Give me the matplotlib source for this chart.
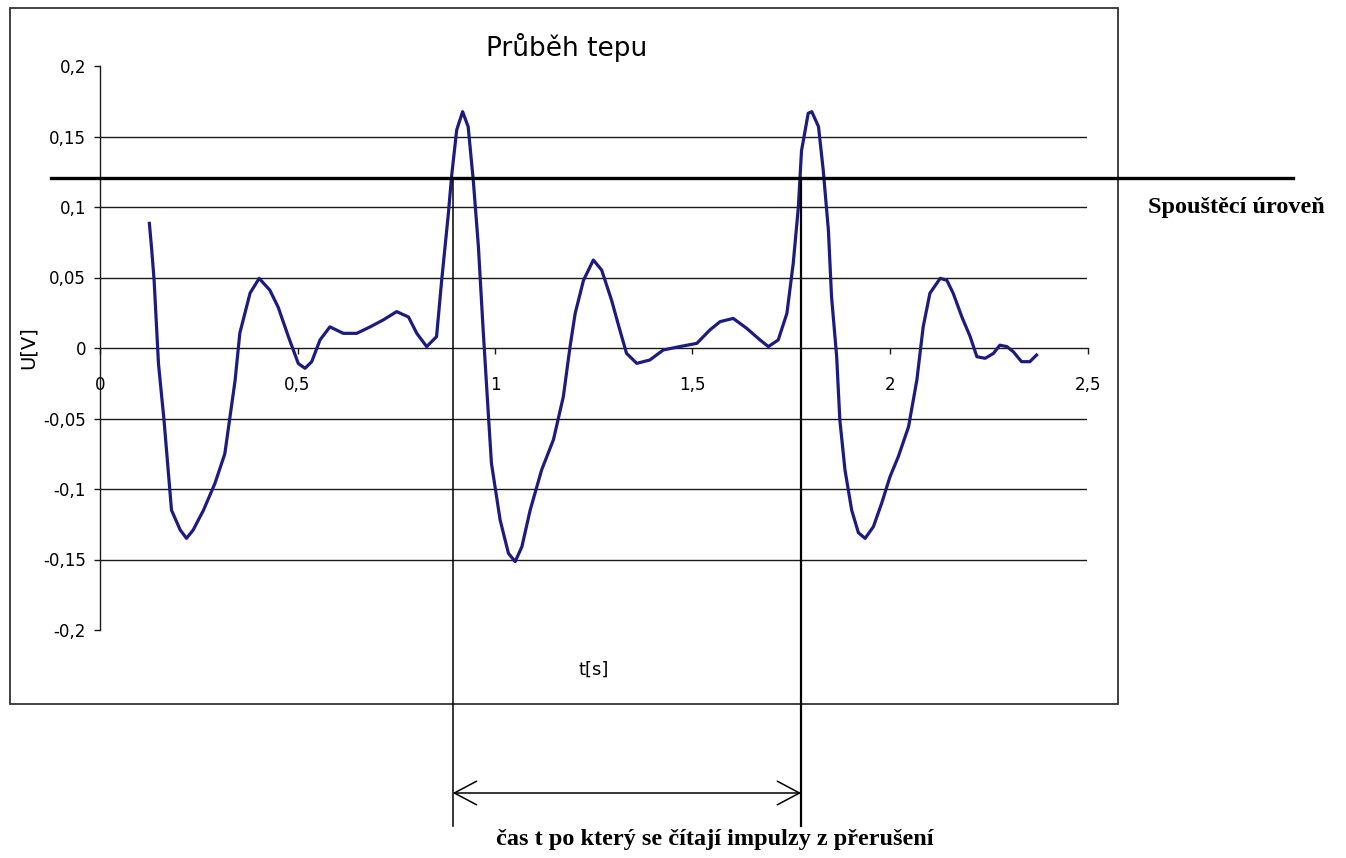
import matplotlib
matplotlib.use("Agg")
import matplotlib.pyplot as plt
from matplotlib.patches import Rectangle
from matplotlib.lines import Line2D
import matplotlib.transforms as mtransforms

# ---- data ----
t = [0.125, 0.131, 0.137, 0.148, 0.162, 0.181, 0.203, 0.219, 0.236, 0.262,
     0.291, 0.316, 0.329, 0.342, 0.354, 0.380, 0.403, 0.430, 0.451, 0.477,
     0.502, 0.519, 0.536, 0.557, 0.582, 0.616, 0.650, 0.684, 0.717, 0.751,
     0.781, 0.802, 0.827, 0.852, 0.865, 0.882, 0.890, 0.903, 0.918, 0.932,
     0.945, 0.958, 0.970, 0.983, 0.991, 1.013, 1.034, 1.051, 1.068, 1.089,
     1.118, 1.148, 1.173, 1.190, 1.203, 1.224, 1.249, 1.270, 1.295, 1.316,
     1.333, 1.359, 1.392, 1.426, 1.468, 1.511, 1.544, 1.570, 1.603, 1.637,
     1.671, 1.692, 1.717, 1.739, 1.755, 1.768, 1.776, 1.793, 1.802, 1.819,
     1.831, 1.844, 1.852, 1.865, 1.873, 1.886, 1.903, 1.920, 1.937, 1.958,
     1.979, 2.000, 2.021, 2.047, 2.068, 2.084, 2.101, 2.127, 2.144, 2.160,
     2.182, 2.203, 2.220, 2.241, 2.262, 2.278, 2.296, 2.312, 2.333, 2.354,
     2.371]
u = [0.0884, 0.0695, 0.048, -0.011, -0.051, -0.115, -0.129, -0.135, -0.129, -0.115,
     -0.096, -0.075, -0.049, -0.023, 0.0106, 0.039, 0.0494, 0.041, 0.029, 0.008,
     -0.011, -0.0144, -0.0097, 0.0057, 0.015, 0.0104, 0.0104, 0.015, 0.0199, 0.0258,
     0.022, 0.0104, 0.001, 0.008, 0.048, 0.0955, 0.1215, 0.1546, 0.1676, 0.157,
     0.119, 0.0718, 0.0128, -0.0463, -0.0818, -0.122, -0.1456, -0.1515, -0.141, -0.115,
     -0.0865, -0.065, -0.0345, 0.001, 0.0246, 0.048, 0.0624, 0.0553, 0.034, 0.0128,
     -0.0038, -0.0109, -0.0085, -0.0014, 0.001, 0.0033, 0.0128, 0.0187, 0.021, 0.014,
     0.0057, 0.001, 0.0057, 0.0246, 0.060, 0.100, 0.140, 0.1665, 0.1676, 0.157,
     0.126, 0.0837, 0.0364, -0.0062, -0.051, -0.0865, -0.115, -0.131, -0.135, -0.1267,
     -0.110, -0.0913, -0.0771, -0.0558, -0.0227, 0.015, 0.0388, 0.0494, 0.048, 0.0388,
     0.022, 0.008, -0.0062, -0.0073, -0.0038, 0.002, 0.001, -0.0026, -0.0097, -0.0097,
     -0.005]

trigger_level = 0.1206
trigger_times = [0.893, 1.775]

x_ticks = [0, 0.5, 1, 1.5, 2, 2.5]
x_ticklabels = ["0", "0,5", "1", "1,5", "2", "2,5"]
y_ticks = [-0.2, -0.15, -0.1, -0.05, 0, 0.05, 0.1, 0.15, 0.2]
y_ticklabels = ["-0,2", "-0,15", "-0,1", "-0,05", "0", "0,05", "0,1", "0,15", "0,2"]
grid_levels = [-0.15, -0.1, -0.05, 0.05, 0.1, 0.15]

title = "Průběh tepu"
xlabel = "t[s]"
ylabel = "U[V]"
trigger_label = "Spouštěcí úroveň"
interval_label = "čas t po který se čítají impulzy z přerušení"

# ---- figure ----
W, H = 1346, 858
fig = plt.figure(figsize=(W / 100, H / 100), dpi=100)
fig.patch.set_facecolor("white")

def fx(px):
    return px / W

def fy(py):
    return 1 - py / H

ax = fig.add_axes([fx(100), fy(630), (1087.5 - 100) / W, (630 - 66) / H])
ax.set_xlim(0, 2.5)
ax.set_ylim(-0.2, 0.2)
ax.patch.set_alpha(0)

for g in grid_levels:
    ax.axhline(g, color="#1a1a1a", lw=1.0, zorder=1)

ax.spines["top"].set_visible(False)
ax.spines["right"].set_visible(False)
ax.spines["bottom"].set_position(("data", 0))
for s in ("left", "bottom"):
    ax.spines[s].set_color("#1a1a1a")
    ax.spines[s].set_linewidth(1.0)

tickfont = dict(family="DejaVu Sans", size=12)
ax.set_xticks(x_ticks)
ax.set_xticklabels(x_ticklabels, **tickfont)
ax.set_yticks(y_ticks)
ax.set_yticklabels(y_ticklabels, **tickfont)
ax.tick_params(axis="x", direction="out", length=4, width=1.0, pad=16, color="#1a1a1a")
ax.tick_params(axis="y", direction="out", length=4, width=1.0, pad=6, color="#1a1a1a")

ax.plot(t, u, color="#1c1c80", lw=2.3, zorder=3, solid_joinstyle="round")

# frame around chart area
fig.add_artist(Rectangle((fx(10), fy(704)), fx(1118) - fx(10), fy(8) - fy(704),
                         transform=fig.transFigure, fill=False,
                         edgecolor="#333333", lw=1.3))

# trigger level line (extends beyond chart)
tr_x = mtransforms.blended_transform_factory(fig.transFigure, ax.transData)
fig.add_artist(Line2D([fx(51), fx(1293)], [trigger_level, trigger_level],
                      transform=tr_x, color="black", lw=2.4))

# vertical markers at trigger crossings
tr_v = mtransforms.blended_transform_factory(ax.transData, fig.transFigure)
y_top = ax.transData.transform((0, trigger_level))[1] / fig.bbox.height
for i, tt in enumerate(trigger_times):
    fig.add_artist(Line2D([tt, tt], [fy(826), y_top], transform=tr_v,
                          color="black", lw=1.1 if i == 0 else 1.6))

# double arrow
ax.annotate("", xy=(trigger_times[1], fy(793)), xycoords=tr_v,
            xytext=(trigger_times[0], fy(793)), textcoords=tr_v,
            arrowprops=dict(arrowstyle="<->,head_length=1.6,head_width=0.85",
                            mutation_scale=10, lw=1.1, color="black",
                            shrinkA=0, shrinkB=0),
            annotation_clip=False)

# texts
fig.text(fx(567), fy(48), title, ha="center", va="center",
         family="DejaVu Sans", size=19)
fig.text(fx(594), fy(670), xlabel, ha="center", va="center",
         family="DejaVu Sans", size=13)
fig.text(fx(28), fy(348), ylabel, ha="center", va="center", rotation=90,
         family="DejaVu Sans", size=14)
fig.text(fx(1236), fy(207), trigger_label, ha="center", va="center",
         family="Liberation Serif", weight="bold", size=17.5)
fig.text(fx(715), fy(839), interval_label, ha="center", va="center",
         family="Liberation Serif", weight="bold", size=17.5)

fig.savefig("out.png", dpi=100, facecolor="white")
